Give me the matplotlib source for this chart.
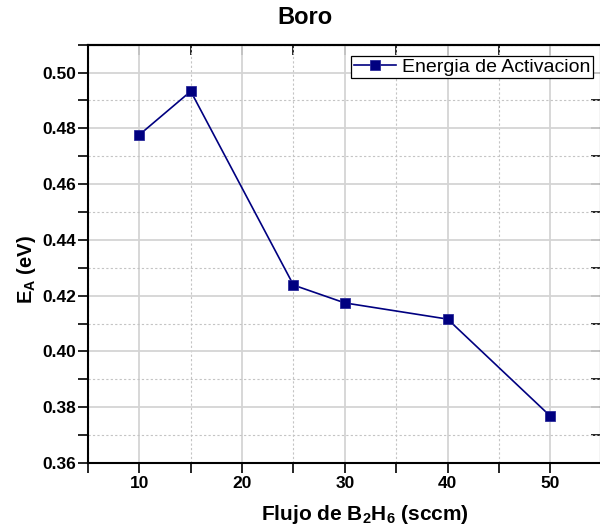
import matplotlib
matplotlib.use('Agg')
import matplotlib.pyplot as plt
from matplotlib.ticker import MultipleLocator, FormatStrFormatter

# Activation energy vs. diborane flow
flujo = [10, 15, 25, 30, 40, 50]
energia = [0.4777, 0.4933, 0.4238, 0.4174, 0.4116, 0.3768]
serie = 'Energia de Activacion'
titulo = 'Boro'
xlabel = 'Flujo de B$_2$H$_6$ (sccm)'
ylabel = 'E$_A$ (eV)'

plt.rcParams['font.family'] = ['Liberation Sans', 'DejaVu Sans']
plt.rcParams['mathtext.fontset'] = 'custom'
plt.rcParams['mathtext.rm'] = 'Liberation Sans:bold'
plt.rcParams['mathtext.it'] = 'Liberation Sans:bold'
plt.rcParams['mathtext.bf'] = 'Liberation Sans:bold'
plt.rcParams['mathtext.default'] = 'rm'

W, H = 600, 532
fig = plt.figure(figsize=(W / 100, H / 100), dpi=100)
left, right, top, bottom = 88, 601, 44.7, 463
aw, ah = right - left, bottom - top
ax = fig.add_axes([left / W, (H - bottom) / H, aw / W, ah / H])

ax.plot(flujo, energia, color='#000080', lw=1.2, marker='s', ms=6.8,
        mec='#2a2a9a', mew=0.6, label=serie, zorder=3)

ax.set_xlim(5, 54.93)
ax.set_ylim(0.36, 0.51)
ax.xaxis.set_major_locator(MultipleLocator(10))
ax.xaxis.set_minor_locator(MultipleLocator(5))
ax.yaxis.set_major_locator(MultipleLocator(0.02))
ax.yaxis.set_minor_locator(MultipleLocator(0.01))
ax.yaxis.set_major_formatter(FormatStrFormatter('%.2f'))

ax.grid(which='major', color='#d4d4d4', lw=1.3, ls='-')
ax.grid(which='minor', color='#c4c4c4', lw=0.8, ls=(0, (2, 2)))
ax.set_axisbelow(True)

for s in ax.spines.values():
    s.set_linewidth(1.5)

ax.tick_params(which='both', direction='out', length=7.5, width=1.2,
               labelsize=12.5)
ax.tick_params(axis='y', which='both', pad=1)
ax.tick_params(axis='x', which='both', pad=2)
for lab in ax.get_xticklabels() + ax.get_yticklabels():
    lab.set_fontweight('bold')

# Inward ticks on the top and right edges
sx = ax.secondary_xaxis('top')
sx.xaxis.set_major_locator(MultipleLocator(5))
sx.tick_params(direction='in', length=7.5, width=1.2, labeltop=False)
sy = ax.secondary_yaxis('right')
sy.yaxis.set_major_locator(MultipleLocator(0.01))
sy.tick_params(direction='in', length=7.5, width=1.2, labelright=False)
for s in list(sx.spines.values()) + list(sy.spines.values()):
    s.set_linewidth(1.5)

ax.set_xlabel(xlabel, fontsize=15, fontweight='bold')
ax.xaxis.set_label_coords((365 - left) / aw, (bottom - 503) / ah)
ax.set_ylabel(ylabel, fontsize=14.5, fontweight='bold')
ax.yaxis.set_label_coords((38 - left) / aw, (bottom - 270) / ah)

leg = ax.legend(loc='upper right', bbox_to_anchor=(0.9844, 0.9737),
                borderaxespad=0, fontsize=14, frameon=True, fancybox=False,
                edgecolor='black', framealpha=1, handlelength=2.2,
                handletextpad=0.3, borderpad=0.12)
leg.get_frame().set_linewidth(0.9)

fig.text(305 / W, 1 - 18 / H, titulo, ha='center', va='center',
         fontsize=17, fontweight='bold')

fig.savefig('out.png', dpi=100)
